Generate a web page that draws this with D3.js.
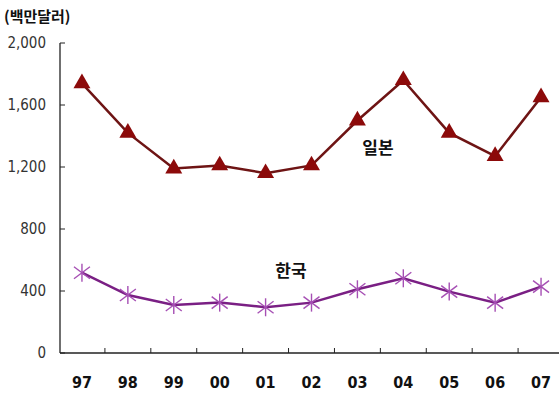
<!DOCTYPE html>
<html><head><meta charset="utf-8">
<script src="https://cdn.jsdelivr.net/npm/d3@7"></script>
<style>body{margin:0;background:#fff}svg{display:block}</style>
</head><body>
<svg id="c" width="559" height="393"></svg>
<script>
const years = ["97","98","99","00","01","02","03","04","05","06","07"];
const japan = [1740,1420,1190,1210,1160,1210,1500,1760,1420,1270,1650];
const korea = [518,374,310,325,295,325,411,482,396,325,428];
const yTicks = [0,400,800,1200,1600,2000];
const unitLabel = "(백만달러)";
const japanLabel = "일본";
const koreaLabel = "한국";

const svg = d3.select("#c");
const x = d3.scaleBand().domain(years).range([59,564]);
const y = d3.scaleLinear().domain([0,2000]).range([353,43]);
const cx = d => x(d) + x.bandwidth()/2;

// axes
svg.append("line").attr("x1",60).attr("x2",60).attr("y1",y(2000)).attr("y2",y(0)).attr("stroke","#222").attr("stroke-width",1.3);
svg.append("line").attr("x1",60).attr("x2",559).attr("y1",y(0)).attr("y2",y(0)).attr("stroke","#222").attr("stroke-width",1.3);
yTicks.forEach(t=>{
  svg.append("line").attr("x1",60).attr("x2",65).attr("y1",y(t)).attr("y2",y(t)).attr("stroke","#222");
  svg.append("text").attr("x",46).attr("y",y(t)+5).attr("text-anchor","end")
    .attr("font-family","Liberation Sans Narrow, DejaVu Sans Condensed, sans-serif").attr("font-size",15).attr("fill","#333")
    .attr("transform",`translate(0,0)`).text(d3.format(",")(t));
});
years.slice(1).forEach(d=>{
  svg.append("line").attr("x1",x(d)).attr("x2",x(d)).attr("y1",y(0)).attr("y2",y(0)-5).attr("stroke","#222");
});
years.forEach(d=>{
  svg.append("text").attr("x",cx(d)).attr("y",388).attr("text-anchor","middle")
    .attr("font-family","Liberation Sans Narrow, DejaVu Sans Condensed, sans-serif").attr("font-weight","bold").attr("font-size",16).attr("fill","#111").text(d);
});
svg.append("text").attr("x",4).attr("y",22).attr("font-family","Noto Sans CJK KR, sans-serif").attr("font-weight","bold").attr("font-size",15).attr("fill","#111").text(unitLabel);

// lines
const line = arr => d3.line().x((v,i)=>cx(years[i])).y(v=>y(v))(arr);
svg.append("path").attr("d",line(japan)).attr("fill","none").attr("stroke","#6e1414").attr("stroke-width",2.5);
svg.append("path").attr("d",line(korea)).attr("fill","none").attr("stroke","#7a1f84").attr("stroke-width",2.5);

// markers
const tri = d3.symbol().type(d3.symbolTriangle).size(125);
japan.forEach((v,i)=>{
  svg.append("path").attr("d",tri()).attr("transform",`translate(${cx(years[i])},${y(v)})`).attr("fill","#8c0a0a");
});
korea.forEach((v,i)=>{
  const g = svg.append("g").attr("transform",`translate(${cx(years[i])},${y(v)})`).attr("stroke","#a64fb4").attr("stroke-width",1.4);
  g.append("line").attr("x1",0).attr("x2",0).attr("y1",-9).attr("y2",9);
  g.append("line").attr("x1",-8).attr("x2",8).attr("y1",-6).attr("y2",6);
  g.append("line").attr("x1",-8).attr("x2",8).attr("y1",6).attr("y2",-6);
});

svg.append("text").attr("x",378).attr("y",154).attr("text-anchor","middle").attr("font-family","Noto Sans CJK KR, sans-serif").attr("font-weight","bold").attr("font-size",17).attr("fill","#111").text(japanLabel);
svg.append("text").attr("x",291).attr("y",277).attr("text-anchor","middle").attr("font-family","Noto Sans CJK KR, sans-serif").attr("font-weight","bold").attr("font-size",17).attr("fill","#111").text(koreaLabel);
</script>
</body></html>
